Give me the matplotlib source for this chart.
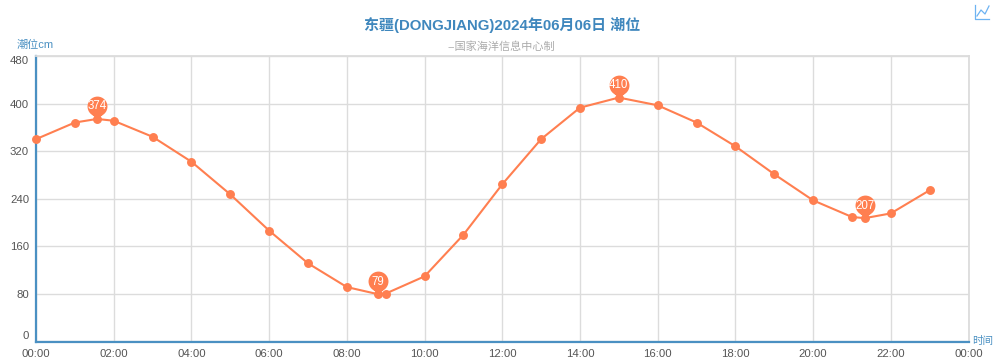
import matplotlib
matplotlib.use('Agg')
import matplotlib.pyplot as plt
from matplotlib.lines import Line2D
from matplotlib.path import Path

plt.rcParams['font.family'] = ['Liberation Sans', 'Noto Sans CJK SC', 'DejaVu Sans']

# hours since midnight, the extreme points sit between the full hours
hours = [0, 1, 1.57, 2, 3, 4, 5, 6, 7, 8, 8.8, 9, 10, 11, 12, 13, 14, 15, 16, 17,
         18, 19, 20, 21, 21.33, 22, 23]
levels = [340, 368, 374, 371, 344, 302, 247, 186, 131, 91, 79, 80, 109, 179, 264,
          340, 393, 410, 397, 368, 328, 281, 237, 209, 207, 215, 254]
peak_hours = [1.57, 8.8, 15, 21.33]
peak_levels = [374, 79, 410, 207]
y_ticks = [0, 80, 160, 240, 320, 400, 480]
x_ticks = list(range(0, 25, 2))
x_labels = ['00:00', '02:00', '04:00', '06:00', '08:00', '10:00', '12:00', '14:00',
            '16:00', '18:00', '20:00', '22:00', '00:00']

CORAL = '#ff7f50'
BLUE = '#4a90c2'
W, H = 993, 359

fig = plt.figure(figsize=(W / 100, H / 100), dpi=100)
ax = fig.add_axes([36 / W, 1 - 342 / H, (968.5 - 36) / W, (342 - 56) / H])
ax.set_xlim(0, 24)
ax.set_ylim(-1.5, 480)

ax.set_xticks(x_ticks)
ax.set_xticklabels(x_labels)
ax.set_yticks(y_ticks)
ax.set_yticklabels(y_ticks)
ax.tick_params(axis='both', length=0, labelsize=8.2, labelcolor='#555555')
ax.tick_params(axis='x', pad=5)
ax.tick_params(axis='y', pad=5)
# first and last y labels stay inside the axis range
ax.get_yticklabels()[0].set_verticalalignment('bottom')
ax.get_yticklabels()[-1].set_verticalalignment('top')

ax.grid(True, color='#dcdcdc', linewidth=1.0)
ax.set_axisbelow(True)
for side in ['top', 'right']:
    ax.spines[side].set_color('#dcdcdc')
    ax.spines[side].set_linewidth(1.3)
for side in ['left', 'bottom']:
    ax.spines[side].set_color(BLUE)
    ax.spines[side].set_linewidth(1.6)

ax.plot(hours, levels, color=CORAL, linewidth=1.5, marker='o', markersize=5.4,
        clip_on=False, zorder=3)

# pin shape: tip on the data point, round head above it
circle = Path.unit_circle()
head = Path(circle.vertices * 1.0 + [0, 1.3], circle.codes)
tip = Path([(-0.55, 0.5), (0, 0), (0.55, 0.5), (-0.55, 0.5)],
           [Path.MOVETO, Path.LINETO, Path.LINETO, Path.CLOSEPOLY])
pin = Path.make_compound_path(head, tip)
ax.plot(peak_hours, peak_levels, linestyle='none', marker=pin, markersize=33,
        color=CORAL, markeredgewidth=0, clip_on=False, zorder=4)
for px, py in zip(peak_hours, peak_levels):
    ax.annotate(str(py), (px, py), xytext=(0, 9), textcoords='offset points',
                ha='center', va='center', color='white', fontsize=8.3, zorder=5)

fig.text(502 / W, 1 - 25 / H, '东疆(DONGJIANG)2024年06月06日 潮位', color='#3f87bd',
         fontsize=10.8, fontweight='bold', ha='center', va='center')
fig.text(501.5 / W, 1 - 46.5 / H, '--国家海洋信息中心制', color='#aaaaaa', fontsize=8,
         ha='center', va='center')
fig.text(17 / W, 1 - 45 / H, '潮位cm', color=BLUE, fontsize=8, ha='left', va='center')
fig.text(972 / W, 1 - 341 / H, '时间', color=BLUE, fontsize=7.6, ha='left', va='center')

# toolbox icon, top right
icon_x = [975, 975, 989]
icon_y = [5, 19, 19]
icon2_x = [977, 981, 985, 989]
icon2_y = [16, 10, 14, 6]
for xs, ys in [(icon_x, icon_y), (icon2_x, icon2_y)]:
    fig.add_artist(Line2D([x / W for x in xs], [1 - y / H for y in ys],
                          color='#6db3f2', linewidth=0.9))

fig.savefig('out.png', dpi=100)
